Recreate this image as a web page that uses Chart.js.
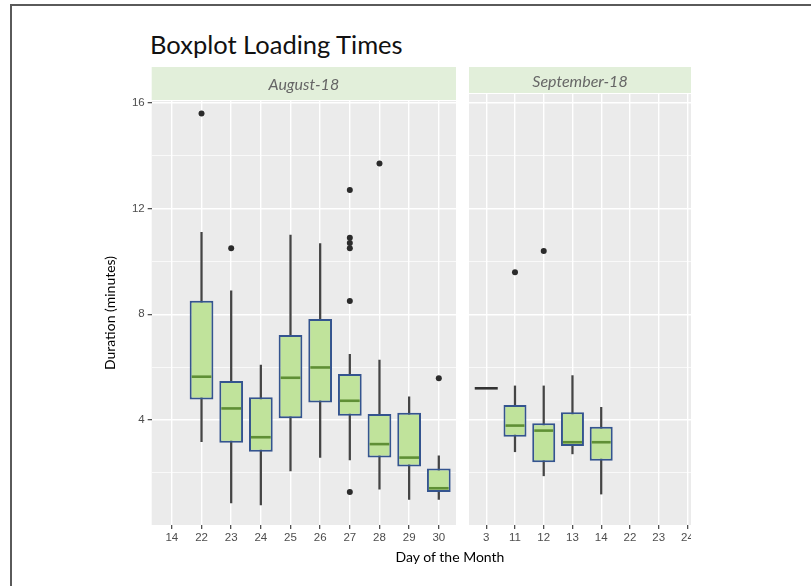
<!DOCTYPE html>
<html>
<head>
<meta charset="utf-8">
<script src="https://cdn.jsdelivr.net/npm/chart.js@4.4.1/dist/chart.umd.min.js"></script>
<style>
  body { margin: 0; background: #fff; }
  #page { position: relative; width: 811px; height: 586px; overflow: hidden; }
  .frame-top { position: absolute; left: 10px; top: 4px; right: 0; height: 2px; background: #5a5a5a; }
  .frame-left { position: absolute; left: 10px; top: 4px; bottom: 0; width: 2px; background: #5a5a5a; }
  #title { position: absolute; left: 150px; top: 32px; font: 400 25.5px Lato; line-height: 1; color: #111; white-space: nowrap; }
  #xtitle { position: absolute; left: 350px; width: 200px; top: 550px; text-align: center; font: 400 14px Lato; line-height: 1; color: #000; }
  #aug { position: absolute; left: 0; top: 0; }
  #sepWrap { position: absolute; left: 465px; top: 0; width: 226px; height: 586px; overflow: hidden; }
</style>
</head>
<body>
<div id="page">
  <div class="frame-top"></div>
  <div class="frame-left"></div>
  <div id="title">Boxplot Loading Times</div>
  <canvas id="aug" width="460" height="586"></canvas>
  <div id="sepWrap"><canvas id="sep" width="250" height="586"></canvas></div>
  <div id="xtitle">Day of the Month</div>
</div>
<script>
// August-18 panel
const augDays     = ['14', '22', '23', '24', '25', '26', '27', '28', '29', '30'];
const augLow      = [null, 3.18, 0.87, 0.79, 2.08, 2.59, 2.49, 1.39, 1.00, 1.00];
const augQ1       = [null, 4.78, 3.14, 2.80, 4.07, 4.66, 4.16, 2.58, 2.24, 1.28];
const augMedian   = [null, 5.64, 4.44, 3.35, 5.60, 5.99, 4.73, 3.09, 2.58, 1.42];
const augQ3       = [null, 8.51, 5.48, 4.86, 7.22, 7.82, 5.74, 4.23, 4.28, 2.17];
const augHigh     = [null, 11.1, 8.89, 6.08, 11.0, 10.68, 6.49, 6.27, 4.88, 2.65];
const augOutliers = [[], [15.6], [10.5], [], [], [], [12.7, 10.9, 10.7, 10.5, 8.5, 1.28], [13.71], [], [5.58]];

// September-18 panel
const sepDays     = ['3', '11', '12', '13', '14', '22', '23', '24'];
const sepLow      = [5.2, 2.80, 1.89, 2.72, 1.20, null, null, null];
const sepQ1       = [5.2, 3.37, 2.40, 3.02, 2.46, null, null, null];
const sepMedian   = [5.2, 3.79, 3.60, 3.16, 3.16, null, null, null];
const sepQ3       = [5.2, 4.57, 3.88, 4.29, 3.75, null, null, null];
const sepHigh     = [5.2, 5.29, 5.29, 5.68, 4.48, null, null, null];
const sepOutliers = [[], [9.59], [10.39], [], [], [], [], []];

const yBreaks = [2, 4, 6, 8, 10, 12, 14, 16];

const boxFill = '#c0e39b', boxLine = '#34548f', medianLine = '#5f8f35';
const whiskerLine = '#444', pointColor = '#2b2b2b';
const tickFont = { family: 'Liberation Sans', size: 11.5 };

function boxDatasets(low, q1, med, q3, high, outliers) {
  const boxes = [], whiskers = [], meds = [], points = [];
  q1.forEach((v, i) => {
    if (v == null) return;
    boxes.push({ x: i, y: [q1[i], q3[i]] });
    whiskers.push({ x: i, y: [low[i], high[i]] });
    meds.push(med[i]);
  });
  outliers.forEach((list, i) => list.forEach(v => points.push({ x: i, y: v })));
  return [
    { type: 'scatter', data: points, order: 0, pointRadius: 3, pointBackgroundColor: pointColor, pointBorderWidth: 0 },
    { type: 'bar', data: boxes, medians: meds, order: 1, backgroundColor: boxFill, borderColor: boxLine,
      borderWidth: 2, borderSkipped: false, grouped: false, categoryPercentage: 1, barPercentage: 0.8 },
    { type: 'bar', data: whiskers, order: 2, backgroundColor: whiskerLine, barThickness: 1.6, grouped: false }
  ];
}

// grey panel + facet strip
const stripPlugin = {
  id: 'strip',
  beforeDraw(chart, args, opts) {
    const { ctx, chartArea: a } = chart;
    ctx.save();
    ctx.fillStyle = '#ebebeb';
    ctx.fillRect(a.left, a.top, a.right - a.left, a.bottom - a.top);
    ctx.fillStyle = '#e2efda';
    ctx.fillRect(a.left, opts.top, a.right - a.left, a.top - 1 - opts.top);
    const right = Math.min(a.right, opts.clipRight || a.right);
    ctx.fillStyle = '#666';
    ctx.font = 'italic 16px Lato';
    ctx.textAlign = 'center';
    ctx.textBaseline = 'alphabetic';
    ctx.fillText(opts.text, (a.left + right) / 2, (opts.top + a.top) / 2 + 6);
    ctx.restore();
  }
};

const medianPlugin = {
  id: 'medians',
  afterDatasetsDraw(chart) {
    const idx = chart.data.datasets.findIndex(d => d.medians);
    const ds = chart.data.datasets[idx];
    const meta = chart.getDatasetMeta(idx);
    const y = chart.scales.y, ctx = chart.ctx;
    ctx.save();
    meta.data.forEach((bar, j) => {
      const flat = ds.data[j].y[0] === ds.data[j].y[1];
      const py = y.getPixelForValue(ds.medians[j]);
      const inset = flat ? 0 : 2;
      ctx.strokeStyle = flat ? '#333' : medianLine;
      ctx.lineWidth = 2.6;
      ctx.beginPath();
      ctx.moveTo(bar.x - bar.width / 2 + inset, py);
      ctx.lineTo(bar.x + bar.width / 2 - inset, py);
      ctx.stroke();
    });
    ctx.restore();
  }
};

function makeChart(canvas, days, sets, o) {
  return new Chart(canvas, {
    type: 'bar',
    data: { datasets: sets },
    options: {
      responsive: false,
      animation: false,
      events: [],
      layout: { padding: { left: o.padLeft, top: o.top, right: o.padRight, bottom: 0 } },
      plugins: {
        legend: { display: false },
        tooltip: { enabled: false },
        strip: { text: o.strip, top: 67, clipRight: o.clipRight }
      },
      scales: {
        x: {
          type: 'linear', min: o.xMin, max: o.xMax, offset: false,
          afterBuildTicks: s => { s.ticks = days.map((d, i) => ({ value: i })); },
          afterFit: s => { s.height = 61; s.paddingLeft = 0; s.paddingRight = 0; },
          ticks: { autoSkip: false, maxRotation: 0, callback: v => days[v], color: '#4d4d4d', font: tickFont, padding: 2 },
          grid: { offset: false, color: '#fff', lineWidth: 1.4, tickLength: 4, tickColor: '#333', tickWidth: 1.1 },
          border: { display: false }
        },
        y: {
          type: 'linear', min: 0.03, max: o.yMax,
          afterBuildTicks: s => { s.ticks = yBreaks.map(v => ({ value: v })); },
          afterFit: s => { s.width = o.yWidth; s.paddingTop = 0; s.paddingBottom = 0; },
          ticks: { display: o.yLabels, callback: v => (v % 4 === 0 ? v : ''), color: '#4d4d4d', font: tickFont, padding: 3 },
          grid: {
            color: '#fff',
            lineWidth: c => (c.tick && c.tick.value % 4 === 0 ? 1.4 : 0.7),
            drawTicks: o.yLabels, tickLength: 4, tickWidth: 1.1,
            tickColor: c => (c.tick && c.tick.value % 4 === 0 ? '#333' : 'rgba(0,0,0,0)')
          },
          border: { display: false },
          title: { display: o.yLabels, text: 'Duration (minutes)', color: '#000', font: { family: 'Lato', size: 14 }, padding: 0 }
        }
      }
    },
    plugins: [stripPlugin, medianPlugin]
  });
}

makeChart(document.getElementById('aug'), augDays,
  boxDatasets(augLow, augQ1, augMedian, augQ3, augHigh, augOutliers),
  { padLeft: 102, padRight: 3.3, top: 101, yWidth: 49.7, yLabels: true, yMax: 16.07,
    xMin: -0.68, xMax: 9.58, strip: 'August-18' });

makeChart(document.getElementById('sep'), sepDays,
  boxDatasets(sepLow, sepQ1, sepMedian, sepQ3, sepHigh, sepOutliers),
  { padLeft: 0, padRight: 0, top: 94, yWidth: 0, yLabels: false, yMax: 16.33,
    xMin: -0.6, xMax: 7.82, strip: 'September-18', clipRight: 226 });
</script>
</body>
</html>
